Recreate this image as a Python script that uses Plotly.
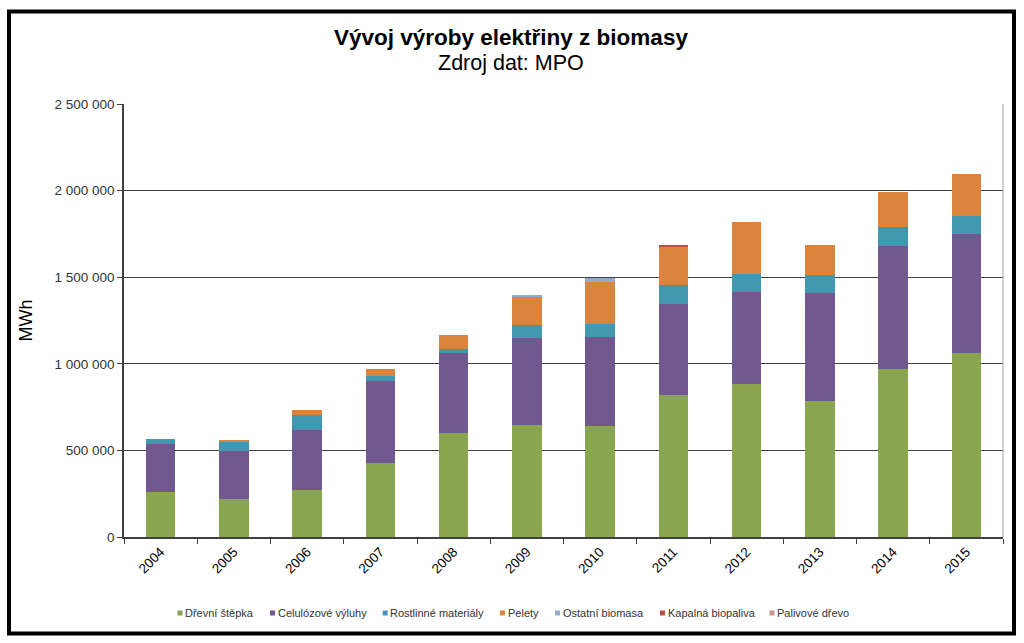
import plotly.graph_objects as go

years = ["2004", "2005", "2006", "2007", "2008", "2009", "2010", "2011", "2012", "2013", "2014", "2015"]

drevni_stepka = [262000, 221000, 270000, 425000, 600000, 647000, 639000, 818000, 882000, 787000, 970000, 1064000]
celulozove_vyluhy = [275000, 277000, 348000, 476000, 461000, 500000, 516000, 527000, 534000, 624000, 712000, 685000]
rostlinne_materialy = [27000, 56000, 85000, 29000, 23000, 75000, 77000, 112000, 104000, 102000, 110000, 104000]
pelety = [0, 5000, 28000, 40000, 84000, 169000, 240000, 223000, 297000, 171000, 200000, 241000]
ostatni_biomasa = [0, 0, 0, 0, 0, 8000, 23000, 0, 0, 0, 0, 0]
kapalna_biopaliva = [0, 0, 0, 0, 0, 0, 0, 5000, 0, 0, 0, 0]
palivove_drevo = [0, 0, 0, 0, 0, 0, 0, 0, 0, 0, 0, 0]

series_names = ["Dřevní štěpka", "Celulózové výluhy", "Rostlinné materiály", "Pelety",
                "Ostatní biomasa", "Kapalná biopaliva", "Palivové dřevo"]
series_values = [drevni_stepka, celulozove_vyluhy, rostlinne_materialy, pelety,
                 ostatni_biomasa, kapalna_biopaliva, palivove_drevo]
series_colors = ["#89A54E", "#71588F", "#4198AF", "#DB843D", "#93A9CF", "#B9504B", "#D19392"]

# legend entry left edges (pixels) – layout only
legend_px = [177.5, 270, 382.7, 500, 555, 660, 769.5]

L, R, T, B = 124, 21, 104, 106
W, H = 1024, 643
pw, ph = W - L - R, H - T - B

def px_x(p):
    return (p - L) / pw

def px_y(p):
    return (H - B - p) / ph

fig = go.Figure()
for name, vals, col in zip(series_names, series_values, series_colors):
    fig.add_trace(go.Bar(x=years, y=vals, name=name, marker=dict(color=col, line=dict(width=0)),
                         showlegend=False))

shapes = [
    dict(type="rect", xref="paper", yref="paper",
         x0=px_x(9), x1=px_x(1014), y0=px_y(633.5), y1=px_y(11.5),
         line=dict(color="black", width=4), layer="above"),
    dict(type="line", xref="paper", yref="paper",
         x0=1, x1=1, y0=0, y1=1, line=dict(color="#A0A0A0", width=1)),
]
annotations = [
    dict(text="<b>Vývoj výroby elektřiny z biomasy</b>", x=px_x(511), y=px_y(38),
         xref="paper", yref="paper", showarrow=False, xanchor="center", yanchor="middle",
         font=dict(size=22.5, color="black")),
    dict(text="Zdroj dat: MPO", x=px_x(511), y=px_y(63),
         xref="paper", yref="paper", showarrow=False, xanchor="center", yanchor="middle",
         font=dict(size=21.5, color="black")),
]
ly = 613
for name, col, lx in zip(series_names, series_colors, legend_px):
    shapes.append(dict(type="rect", xref="paper", yref="paper",
                       x0=px_x(lx), x1=px_x(lx + 5), y0=px_y(ly + 2.5), y1=px_y(ly - 2.5),
                       fillcolor=col, line=dict(width=0)))
    annotations.append(dict(text=name, x=px_x(lx + 5.5), y=px_y(ly), xref="paper", yref="paper",
                            showarrow=False, xanchor="left", yanchor="middle",
                            font=dict(size=11, color="#333333")))

fig.update_layout(
    width=W, height=H,
    margin=dict(l=L, r=R, t=T, b=B, pad=0),
    barmode="stack",
    bargap=0.6,
    separators=", ",
    paper_bgcolor="white",
    plot_bgcolor="white",
    font=dict(family="Liberation Sans, Arial, sans-serif", color="#333333"),
    showlegend=False,
    annotations=annotations,
    shapes=shapes,
)

fig.update_yaxes(
    range=[0, 2500000],
    tickvals=[0, 500000, 1000000, 1500000, 2000000, 2500000],
    tickformat=",d",
    showgrid=True, gridcolor="#404040", gridwidth=1,
    showline=True, linecolor="#404040", linewidth=1.5,
    ticks="outside", ticklen=5, tickcolor="#404040",
    tickfont=dict(size=13.5, color="#333333"),
    title=dict(text="MWh", font=dict(size=18, color="black"), standoff=17),
    zeroline=False,
)
fig.update_xaxes(
    type="category",
    tickangle=-45,
    tickson="boundaries",
    showline=True, linecolor="#404040", linewidth=1.5,
    ticks="outside", ticklen=5, tickcolor="#404040",
    tickfont=dict(size=13.5, color="black"),
    showgrid=False,
)

fig.write_html("out.html", config={"displayModeBar": False},
               post_script="document.body.style.margin='0';")
